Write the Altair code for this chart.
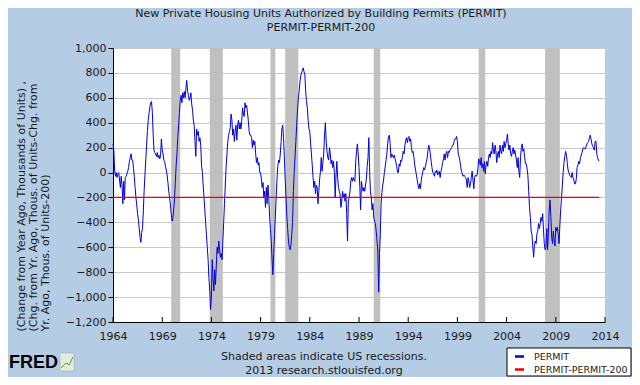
import altair as alt
import pandas as pd

# Monthly change from year ago in building permits (thousands of units), Jan 1964 - Jun 2013
permit_1964_1969 = [
    230, 180, 20, -30, 0, -40, -10, 0, -60, -120, -30, -100,
    -250, -70, -220, -40, -30, -10, 10, 40, 90, 120, 150, 100,
    100, 30, -30, -120, -200, -260, -330, -380, -450, -520, -560, -480,
    -450, -300, -150, -20, 100, 220, 330, 420, 480, 530, 560, 570,
    480, 300, 180, 160, 150, 130, 160, 120, 140, 110, 130, 270,
    180, 150, 100, 90, 50, 20, -20, -80, -150, -200, -260, -330,
]
permit_1970_1979 = [
    -390, -370, -300, -220, -80, 50, 150, 280, 380, 480, 580, 620,
    560, 640, 600, 650, 600, 680, 740, 650, 620, 580, 600, 640,
    550, 500, 420, 380, 250, 130, 350, 300, 330, 250, 280, 220,
    50, 0, -100, -200, -300, -400, -500, -600, -700, -850, -950, -1100,
    -1000, -700, -850, -950, -780, -900, -750, -600, -650, -550, -620, -680,
    -650, -700, -550, -400, -250, -100, 50, 150, 250, 300, 330, 360,
    470, 420, 300, 350, 250, 330, 380, 260, 380, 420, 350, 400,
    350, 420, 520, 470, 450, 560, 520, 540, 480, 420, 330, 300,
    300, 280, 200, 260, 220, 250, 150, 80, 120, 60, 80, 0,
    0, -60, -120, -80, -200, -150, -280, -120, -250, -100, -200, -350,
]
permit_1980_1989 = [
    -450, -550, -700, -820, -650, -500, -350, -200, -50, 50, 100, 80,
    150, 250, 350, 380, 280, 120, -50, -200, -350, -450, -550, -600,
    -620, -580, -500, -400, -150, 0, 120, 250, 380, 500, 600, 650,
    730, 780, 800, 820, 840, 810, 790, 650, 570, 520, 420, 350,
    330, 230, 150, 60, -40, -120, -70, -170, -100, -120, -250, -150,
    -50, 10, 120, 10, 80, 150, 300, 400, 250, 170, 120, 100,
    200, 150, 70, 100, 40, 90, 0, -200, -20, 90, -40, -120,
    -150, -180, -280, -230, -150, -200, -170, -230, -170, -330, -550, -230,
    -200, -150, -70, -40, -70, -40, -60, -70, 90, 170, 230, 150,
    40, -120, -300, -70, -120, -150, -120, -150, -100, -50, 50, 120,
]
permit_1990_1999 = [
    280, 0, -150, -200, -300, -250, -360, -390, -410, -470, -550, -630,
    -960, -650, -500, -250, -160, -100, -60, 0, 50, 100, 150, 230,
    290, 300, 230, 120, 150, 130, 120, 140, 110, 80, 50, 0,
    0, 70, 50, 100, 90, 130, 170, 150, 220, 260, 280, 240,
    280, 290, 250, 270, 200, 160, 170, 120, 60, 20, -20, -60,
    -100, -130, -90, -130, -60, -20, 10, 40, 20, 50, 80, 110,
    170, 220, 200, 150, 90, 40, 0, -10, -30, 10, 0, 20,
    -20, 0, 10, -40, 10, 40, 80, 110, 150, 100, 150, 170,
    120, 170, 160, 180, 190, 200, 220, 220, 250, 270, 270, 290,
    250, 150, 130, 100, 50, 10, -10, -30, -20, -30, -40, -60,
]
permit_2000_2013 = [
    -120, -40, -70, -120, -90, -40, 10, -60, -130, -40, -20, -30,
    -20, 30, 110, 90, 60, 120, 40, 70, 10, 90, -10, 60,
    90, 50, 120, 150, 120, 170, 150, 240, 170, 150, 220, 170,
    80, 150, 170, 120, 220, 170, 150, 220, 170, 250, 200, 230,
    260, 310, 230, 180, 220, 150, 130, 170, 200, 150, 180, 140,
    100, 40, 120, 10, -40, 120, 200, 230, 170, 190, 120, 70,
    70, 30, -20, -150, -280, -360, -470, -500, -600, -680, -580, -550,
    -570, -490, -470, -410, -450, -410, -360, -390, -330, -460, -570, -620,
    -600, -450, -620, -480, -300, -220, -350, -520, -570, -470, -550, -590,
    -440, -470, -440, -500, -570, -420, -300, -200, -100, 0, 80, 130,
    170, 140, 80, 20, 0, -20, -30, -40, 0, -40, -60, -90,
    -90, -50, 40, 60, 90, 70, 110, 140, 160, 190, 200, 190,
    190, 210, 230, 240, 250, 280, 300, 270, 230, 210, 200, 180,
    250, 250, 150, 120, 100, 90,
]
recession_start = ["1969-12-01", "1973-11-01", "1980-01-01", "1981-07-01",
                   "1990-07-01", "2001-03-01", "2007-12-01"]
recession_end = ["1970-11-01", "1975-03-01", "1980-07-01", "1982-11-01",
                 "1991-03-01", "2001-11-01", "2009-06-01"]
x_tick_years = [1964, 1969, 1974, 1979, 1984, 1989, 1994, 1999, 2004, 2009, 2014]
y_ticks = [-1200, -1000, -800, -600, -400, -200, 0, 200, 400, 600, 800, 1000]
red_level = -200

permit = permit_1964_1969 + permit_1970_1979 + permit_1980_1989 + permit_1990_1999 + permit_2000_2013
dates = pd.date_range("1964-01-01", periods=len(permit), freq="MS")
line_df = pd.DataFrame({"date": dates.strftime("%Y-%m-%dT00:00:00"), "value": permit})
red_df = pd.DataFrame({"date": [line_df["date"].iloc[0], line_df["date"].iloc[-1]],
                       "value": [red_level, red_level]})
rec_df = pd.DataFrame({"start": [s + "T00:00:00" for s in recession_start],
                       "end": [e + "T00:00:00" for e in recession_end]})
tick_df = pd.DataFrame({"date": [f"{y}-01-01T00:00:00" for y in x_tick_years]})

W, H = 492, 274
FONT = "DejaVu Sans"
TXT = "#1a1a1a"

xscale = alt.Scale(domain=[alt.DateTime(year=1964, month=1, date=1),
                           alt.DateTime(year=2014, month=1, date=1)])
yscale = alt.Scale(domain=[-1200, 1000], nice=False, zero=False)

xaxis = alt.Axis(values=[alt.DateTime(year=y, month=1, date=1) for y in x_tick_years],
                 format="%Y", grid=False, ticks=False, domainColor="#000000",
                 labelFont=FONT, labelFontSize=11, labelColor=TXT, labelPadding=8,
                 labelFlush=False, labelOverlap=False, title=None)
yaxis = alt.Axis(values=y_ticks, format=",.0f", grid=True, gridColor="#C8C8C8",
                 domainColor="#000000", tickColor="#000000", tickSize=5,
                 labelFont=FONT, labelFontSize=11, labelColor=TXT, labelPadding=2,
                 labelOverlap=False, title=None)

rec = alt.Chart(rec_df).mark_rect(color="#C0C0C0").encode(
    x=alt.X("start:T", scale=xscale, axis=xaxis), x2="end:T")

blue = alt.Chart(line_df).mark_line(stroke="#0000E0", strokeWidth=1).encode(
    x=alt.X("date:T", scale=xscale, axis=xaxis),
    y=alt.Y("value:Q", scale=yscale, axis=yaxis))
red = alt.Chart(red_df).mark_line(stroke="#EE0000", strokeWidth=1.2).encode(
    x=alt.X("date:T", scale=xscale, axis=xaxis), y=alt.Y("value:Q", scale=yscale, axis=yaxis))
ticks = alt.Chart(tick_df).mark_rule(color="#000000").encode(
    x=alt.X("date:T", scale=xscale, axis=xaxis), y=alt.value(H), y2=alt.value(H - 5))

one = pd.DataFrame({"k": [0]})

def txt(s, x, y, size=11, align="center", angle=None, weight="normal", font=FONT, color=TXT):
    kw = dict(font=font, fontSize=size, align=align, baseline="middle", color=color,
              fontWeight=weight)
    if angle is not None:
        kw["angle"] = angle
    return alt.Chart(one).mark_text(**kw).encode(
        x=alt.value(x), y=alt.value(y), text=alt.value(s))

texts = [
    txt("New Private Housing Units Authorized by Building Permits (PERMIT)", 208, -34),
    txt("PERMIT-PERMIT-200", 208, -20),
    txt("(Change from Year Ago, Thousands of Units) ,", -91, 283.5, align="left", angle=270),
    txt("(Chg. from Yr. Ago, Thous. of Units-Chg. from", -79, 283.5, align="left", angle=270),
    txt("Yr. Ago, Thous. of Units-200)", -67, 283.5, align="left", angle=270),
    txt("Shaded areas indicate US recessions.", 211, 308.5),
    txt("2013 research.stlouisfed.org", 211, 322.5),
    txt("FRED", -104, 315, size=18, align="left", weight="bold", font="Liberation Sans", color="#000000"),
]

# small FRED chart icon
icon_box = alt.Chart(one).mark_rect(fill="#E4EBDD", stroke="#9AAA90", strokeWidth=0.5).encode(
    x=alt.value(-53), x2=alt.value(-39), y=alt.value(305), y2=alt.value(323))
icon_seg1 = alt.Chart(one).mark_rule(color="#5E9A3A", strokeWidth=1).encode(
    x=alt.value(-52), x2=alt.value(-47), y=alt.value(320), y2=alt.value(315))
icon_seg2 = alt.Chart(one).mark_rule(color="#5E9A3A", strokeWidth=1).encode(
    x=alt.value(-47), x2=alt.value(-44), y=alt.value(315), y2=alt.value(317))
icon_seg3 = alt.Chart(one).mark_rule(color="#5E9A3A", strokeWidth=1).encode(
    x=alt.value(-44), x2=alt.value(-40), y=alt.value(317), y2=alt.value(309))

legend_box = alt.Chart(one).mark_rect(fill="white", stroke="#000000", strokeWidth=1).encode(
    x=alt.value(394), x2=alt.value(518), y=alt.value(300), y2=alt.value(328))
leg_blue = alt.Chart(one).mark_rule(color="#0000E0", strokeWidth=2.5).encode(
    x=alt.value(402), x2=alt.value(411), y=alt.value(308.5))
leg_red = alt.Chart(one).mark_rule(color="#EE0000", strokeWidth=2.5).encode(
    x=alt.value(402), x2=alt.value(411), y=alt.value(321.5))
leg_t1 = txt("PERMIT", 421, 308.5, size=9.5, align="left")
leg_t2 = txt("PERMIT-PERMIT-200", 421, 321.5, size=9.5, align="left")

chart = alt.layer(rec, blue, red, ticks, *texts, icon_box, icon_seg1, icon_seg2, icon_seg3,
                  legend_box, leg_blue, leg_red, leg_t1, leg_t2).properties(
    width=W, height=H,
    background="#B5CDE4",
    padding={"left": 105, "top": 40, "right": 27, "bottom": 55},
    autosize=alt.AutoSizeParams(type="none"),
).configure_view(fill="white", stroke=None)

chart.save("out.html", embed_options={"renderer": "svg", "actions": False})
